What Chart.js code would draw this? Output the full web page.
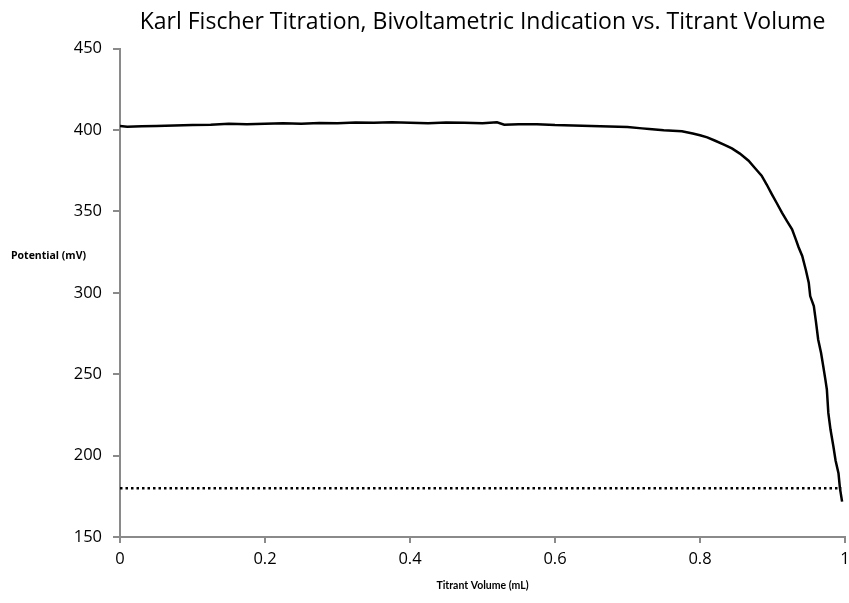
<!DOCTYPE html>
<html>
<head>
<meta charset="utf-8">
<script src="https://cdn.jsdelivr.net/npm/chart.js@4.4.1/dist/chart.umd.min.js"></script>
<style>
    html, body { margin: 0; padding: 0; background: #fff; }
    #wrap { width: 849px; height: 603px; }
</style>
</head>
<body>
<div id="wrap"><canvas id="kfChart" width="849" height="603"></canvas></div>
<script>
// titrant volume (mL) and potential (mV)
const volume = [0, 0.01, 0.03, 0.05, 0.075, 0.1, 0.125, 0.15, 0.175, 0.2, 0.225, 0.25, 0.275, 0.3,
    0.325, 0.35, 0.375, 0.4, 0.425, 0.45, 0.475, 0.5, 0.52, 0.53, 0.55, 0.575, 0.6, 0.625, 0.65,
    0.675, 0.7, 0.72, 0.73, 0.75, 0.775, 0.79, 0.8, 0.81, 0.821, 0.833, 0.844, 0.855, 0.867, 0.876,
    0.885, 0.892, 0.899, 0.906, 0.913, 0.92, 0.927, 0.932, 0.936, 0.941, 0.946, 0.95, 0.952, 0.957,
    0.96, 0.963, 0.967, 0.97, 0.973, 0.975, 0.977, 0.98, 0.984, 0.987, 0.991, 0.993, 0.996];
const potential = [402.5, 402, 402.3, 402.5, 402.8, 403, 403.2, 403.8, 403.5, 403.9, 404.2, 403.8, 404.3, 404.2,
    404.6, 404.4, 404.8, 404.5, 404.2, 404.6, 404.4, 404.2, 404.7, 403.2, 403.6, 403.5, 403.0, 402.8, 402.4,
    402.2, 401.8, 401.0, 400.6, 399.8, 399.2, 397.8, 396.8, 395.5, 393.4, 391, 388.7, 385.5, 381.1, 376.5,
    371.9, 366.5, 360.6, 355, 349.3, 344, 339, 333, 328, 322.6, 314, 306.2, 298, 291.8,
    282, 271.3, 263, 254.9, 246.5, 240.5, 226.2, 216, 205.6, 197, 189.2, 180, 171.7];

// endpoint threshold (dotted line)
const thresholdVolume = [0, 0.995];
const thresholdPotential = [180, 180];

const xTicks = [0, 0.2, 0.4, 0.6, 0.8, 1];
const yTicks = [150, 200, 250, 300, 350, 400, 450];

const axisGrey = '#8a8a8a';
const tickFont = { family: 'Open Sans', size: 16.5 };

const yTitlePlugin = {
    id: 'yTitleFlat',
    afterDraw(chart) {
        const ctx = chart.ctx;
        ctx.save();
        ctx.font = 'bold 10.5px "Open Sans"';
        ctx.fillStyle = '#000';
        ctx.textBaseline = 'middle';
        ctx.textAlign = 'left';
        ctx.fillText('Potential (mV)', 11, 256);
        ctx.restore();
    }
};

const toPoints = (xs, ys) => xs.map((x, i) => ({ x: x, y: ys[i] }));

new Chart(document.getElementById('kfChart'), {
    type: 'line',
    data: {
        datasets: [{
            data: toPoints(volume, potential),
            borderColor: '#000',
            borderWidth: 2.5,
            pointRadius: 0,
            tension: 0
        }, {
            data: toPoints(thresholdVolume, thresholdPotential),
            borderColor: '#000',
            borderWidth: 2.5,
            borderDash: [2.5, 3],
            pointRadius: 0
        }]
    },
    options: {
        responsive: false,
        animation: false,
        layout: { padding: { left: 0, right: 0, top: 0, bottom: 0 } },
        plugins: {
            legend: { display: false },
            tooltip: { enabled: false },
            title: {
                display: true,
                fullSize: false,
                text: 'Karl Fischer Titration, Bivoltametric Indication vs. Titrant Volume',
                color: '#000',
                font: { family: 'Open Sans', size: 23, weight: 'normal' },
                padding: { top: 9, bottom: 12 }
            }
        },
        scales: {
            x: {
                type: 'linear',
                min: 0,
                max: 1,
                afterBuildTicks(scale) { scale.ticks = xTicks.map(v => ({ value: v })); },
                afterFit(scale) {
                    scale.height = 66;
                    scale.paddingRight = 4;
                },
                ticks: {
                    color: '#000',
                    font: tickFont,
                    padding: 6,
                    callback: v => String(Math.round(v * 10) / 10)
                },
                grid: { drawOnChartArea: false, drawTicks: true, tickLength: 6, color: axisGrey, lineWidth: 2 },
                border: { color: axisGrey, width: 2 },
                title: {
                    display: true,
                    text: 'Titrant Volume (mL)',
                    color: '#000',
                    font: { family: 'Lato', size: 10.5, weight: 'bold' },
                    padding: { top: 0, bottom: 11 }
                }
            },
            y: {
                min: 150,
                max: 450,
                afterBuildTicks(scale) { scale.ticks = yTicks.map(v => ({ value: v })); },
                afterFit(scale) { scale.width = 120; },
                ticks: { color: '#000', font: tickFont, padding: 11 },
                grid: { drawOnChartArea: false, drawTicks: true, tickLength: 7, color: axisGrey, lineWidth: 2 },
                border: { color: axisGrey, width: 2 }
            }
        }
    },
    plugins: [yTitlePlugin]
});
</script>
</body>
</html>
